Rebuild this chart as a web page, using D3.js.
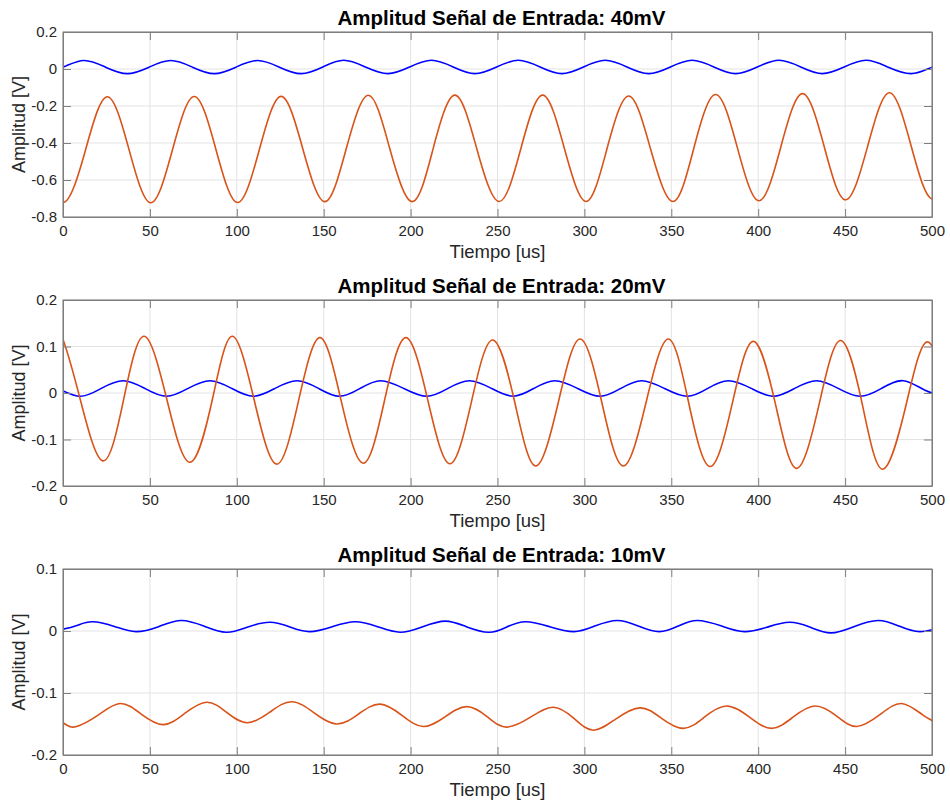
<!DOCTYPE html>
<head>
	<meta charset="utf-8">
	<script src="https://d3js.org/d3.v7.min.js"></script>
	<style>
		body { margin: 0; background: #fff; }
		text { font-family: "Liberation Sans", Arial, Helvetica, sans-serif; }
	</style>
</head>
<body>
	<div id="fig"></div>
	<script>

	// figure size
	var width = 950,
	height = 805;

	// titles and tick labels
	var titles = ["Amplitud Señal de Entrada: 40mV", "Amplitud Señal de Entrada: 20mV", "Amplitud Señal de Entrada: 10mV"];
	var xTicks = [0, 50, 100, 150, 200, 250, 300, 350, 400, 450, 500];
	var yTicks40 = [0.2, 0, -0.2, -0.4, -0.6, -0.8];
	var yTicks20 = [0.2, 0.1, 0, -0.1, -0.2];
	var yTicks10 = [0.1, 0, -0.1, -0.2];

	// [tiempo us, amplitud V] read from the scope captures
	// (first and last points sit just outside 0..500, the plot clips them)
	var entrada40 = [[-13,-0.025],[0,0.010],[12,0.046],[24.5,0.010],[37,-0.025],[49.5,0.010],[62,0.046],[74.5,0.010],[87,-0.025],[99.5,0.010],[112,0.046],[124.5,0.010],[137,-0.025],[149.5,0.011],[161.5,0.047],[174,0.011],[187,-0.025],[199.5,0.011],[212,0.047],[224.5,0.011],[237,-0.025],[249.5,0.011],[262,0.047],[274.5,0.011],[287,-0.025],[299.5,0.011],[312,0.047],[324.5,0.011],[337,-0.025],[349.5,0.011],[362,0.047],[374.5,0.011],[387,-0.025],[399.5,0.011],[412,0.047],[424.5,0.011],[437,-0.025],[449.5,0.011],[462,0.047],[474.5,0.011],[488,-0.025],[500,0.010],[512,0.047]];
	var salida40 = [[-12.5,-0.436],[0,-0.722],[13,-0.436],[25.5,-0.150],[38,-0.436],[50.5,-0.723],[63,-0.436],[75.5,-0.149],[88,-0.435],[100.5,-0.722],[113,-0.435],[125.5,-0.148],[138,-0.432],[150.7,-0.717],[163,-0.430],[175.7,-0.142],[188,-0.430],[201,-0.717],[213,-0.429],[225.5,-0.141],[238,-0.428],[251,-0.716],[263.5,-0.428],[276,-0.141],[288.5,-0.430],[301,-0.716],[313,-0.431],[325.5,-0.146],[338,-0.430],[351,-0.716],[363,-0.427],[375.5,-0.138],[388,-0.425],[400.5,-0.712],[413,-0.422],[425.5,-0.133],[438,-0.420],[450.3,-0.707],[463,-0.417],[475.5,-0.128],[488,-0.416],[500.5,-0.704],[513,-0.416]];

	var entrada20 = [[-15.3,0.0265],[-3,0.010],[9.8,-0.007],[22,0.010],[34.7,0.0265],[47,0.010],[59.6,-0.007],[72,0.010],[84.6,0.0265],[97,0.010],[109.5,-0.007],[122,0.010],[134.6,0.0265],[147,0.010],[159,-0.007],[171,0.010],[182.8,0.0265],[196,0.010],[209.3,-0.007],[221.5,0.010],[233.8,0.0265],[246.5,0.010],[259,-0.007],[271,0.010],[283,0.0265],[296,0.010],[309,-0.007],[321,0.010],[333,0.0265],[346,0.010],[359.2,-0.007],[371,0.010],[382.8,0.0265],[396,0.010],[408.7,-0.007],[421,0.010],[433.6,0.0265],[446,0.010],[458.6,-0.007],[471,0.010],[483.5,0.0265],[496,0.006],[508.5,-0.007]];
	var salida20 = [[-3,0.121],[0,0.115],[9.8,-0.012],[23,-0.146],[35,-0.012],[46.6,0.122],[59.7,-0.013],[73,-0.149],[86,-0.013],[97.4,0.122],[110,-0.015],[123,-0.153],[135.5,-0.017],[147.8,0.119],[160,-0.016],[172.8,-0.151],[185,-0.016],[197.3,0.119],[210,-0.017],[222.6,-0.152],[235,-0.019],[247.2,0.114],[260,-0.021],[272,-0.157],[285,-0.020],[297.5,0.116],[310,-0.020],[322.4,-0.157],[335.5,-0.020],[348.3,0.116],[360,-0.021],[372.3,-0.158],[385,-0.024],[397.2,0.111],[410,-0.025],[422.1,-0.162],[435,-0.025],[447.4,0.113],[460,-0.026],[471.6,-0.164],[485,-0.027],[497.4,0.110],[510,-0.027]];

	var entrada10 = [[-8,-0.001],[0,0.003],[8,0.009],[17,0.015],[30,0.007],[42,-0.001],[55,0.007],[68,0.017],[81,0.008],[94,-0.002],[106,0.006],[119,0.014],[131,0.006],[142,-0.001],[155,0.007],[168,0.015],[181,0.007],[194,-0.002],[207,0.007],[220,0.016],[232,0.007],[245,-0.002],[255,0.006],[266,0.015],[280,0.007],[294,-0.001],[306,0.008],[319,0.017],[331,0.008],[343,-0.001],[354,0.008],[365,0.017],[379,0.008],[392,-0.001],[405,0.006],[418,0.014],[430,0.006],[442,-0.003],[455,0.007],[469,0.017],[481,0.008],[493,-0.001],[506,0.007]];
	var salida10 = [[-17,-0.117],[0,-0.148],[7.8,-0.154],[20,-0.136],[32.8,-0.117],[45,-0.134],[57.7,-0.151],[70,-0.133],[82.7,-0.115],[94,-0.131],[106,-0.148],[119,-0.131],[131.6,-0.114],[144.5,-0.132],[157.5,-0.150],[170,-0.134],[182.4,-0.118],[195,-0.136],[207.3,-0.154],[220,-0.138],[232.3,-0.122],[244,-0.138],[255.2,-0.155],[269,-0.139],[282.1,-0.123],[294,-0.141],[305.1,-0.160],[318,-0.142],[332,-0.124],[344,-0.140],[356.9,-0.157],[369,-0.139],[381.8,-0.121],[395,-0.139],[407.7,-0.157],[420,-0.139],[432.7,-0.121],[445,-0.137],[456.6,-0.154],[470,-0.135],[482.5,-0.117],[495,-0.136],[507,-0.154]];

	var panels = [
		{title: titles[0], ticks: yTicks40, top: 32, bottom: 217, blue: entrada40, orange: salida40},
		{title: titles[1], ticks: yTicks20, top: 300, bottom: 486, blue: entrada20, orange: salida20},
		{title: titles[2], ticks: yTicks10, top: 569, bottom: 755, blue: entrada10, orange: salida10}
	];

	var left = 63, right = 932, tickLen = 8;
	var axisColor = "#7f7f7f", textColor = "#262626";

	var svg = d3.select("#fig").append("svg")
		.attr("width", width)
		.attr("height", height);

	var x = d3.scaleLinear().domain([0, 500]).range([left, right]);

	panels.forEach(function(p, i) {
		var y = d3.scaleLinear()
			.domain([d3.min(p.ticks), d3.max(p.ticks)])
			.range([p.bottom, p.top]);
		var g = svg.append("g");

		svg.append("clipPath").attr("id", "clip" + i)
			.append("rect")
			.attr("x", left).attr("y", p.top)
			.attr("width", right - left).attr("height", p.bottom - p.top);

		// grid
		g.selectAll(".gx").data(xTicks).join("line")
			.attr("x1", d => x(d)).attr("x2", d => x(d))
			.attr("y1", p.top).attr("y2", p.bottom)
			.attr("stroke", "#e3e3e3").attr("stroke-width", 1);
		g.selectAll(".gy").data(p.ticks).join("line")
			.attr("x1", left).attr("x2", right)
			.attr("y1", d => y(d)).attr("y2", d => y(d))
			.attr("stroke", "#e3e3e3").attr("stroke-width", 1);

		// lines
		var line = d3.line()
			.x(d => x(d[0]))
			.y(d => y(d[1]))
			.curve(d3.curveNatural);

		var lines = g.append("g").attr("clip-path", "url(#clip" + i + ")");
		lines.append("path").datum(p.blue)
			.attr("d", line)
			.attr("fill", "none")
			.attr("stroke", "#0000ff")
			.attr("stroke-width", 1.6);
		lines.append("path").datum(p.orange)
			.attr("d", line)
			.attr("fill", "none")
			.attr("stroke", "#d95319")
			.attr("stroke-width", 1.6);

		// axes with inward ticks on all sides
		g.append("g")
			.attr("transform", "translate(0," + p.bottom + ")")
			.call(d3.axisBottom(x).tickValues(xTicks).tickSizeInner(-tickLen).tickSizeOuter(0).tickPadding(8).tickFormat(d3.format("d")));
		g.append("g")
			.attr("transform", "translate(0," + p.top + ")")
			.call(d3.axisTop(x).tickValues(xTicks).tickSizeInner(-tickLen).tickSizeOuter(0).tickFormat(""));
		g.append("g")
			.attr("transform", "translate(" + left + ",0)")
			.call(d3.axisLeft(y).tickValues(p.ticks).tickSizeInner(-tickLen).tickSizeOuter(0).tickPadding(6)
				.tickFormat(d => d === 0 ? "0" : String(d)));
		g.append("g")
			.attr("transform", "translate(" + right + ",0)")
			.call(d3.axisRight(y).tickValues(p.ticks).tickSizeInner(-tickLen).tickSizeOuter(0).tickFormat(""));

		g.selectAll(".domain").attr("stroke", axisColor);
		g.selectAll(".tick line").attr("stroke", axisColor);
		g.selectAll(".tick text")
			.attr("fill", textColor)
			.style("font-size", "15px")
			.style("font-family", "'Liberation Sans', Arial, sans-serif");

		// box
		g.append("rect")
			.attr("x", left).attr("y", p.top)
			.attr("width", right - left).attr("height", p.bottom - p.top)
			.attr("fill", "none").attr("stroke", axisColor).attr("stroke-width", 1);

		// texts
		g.append("text")
			.attr("x", (left + right) / 2 + 4)
			.attr("y", p.top - 7)
			.attr("text-anchor", "middle")
			.style("font-size", "20.5px")
			.style("font-weight", "bold")
			.attr("fill", "#000")
			.text(p.title);
		g.append("text")
			.attr("x", (left + right) / 2)
			.attr("y", p.bottom + 41)
			.attr("text-anchor", "middle")
			.style("font-size", "18.5px")
			.attr("fill", textColor)
			.text("Tiempo [us]");
		g.append("text")
			.attr("transform", "translate(25," + (p.top + p.bottom) / 2 + ") rotate(-90)")
			.attr("text-anchor", "middle")
			.style("font-size", "18px")
			.attr("fill", textColor)
			.text("Amplitud [V]");
	});
</script>
</body>
